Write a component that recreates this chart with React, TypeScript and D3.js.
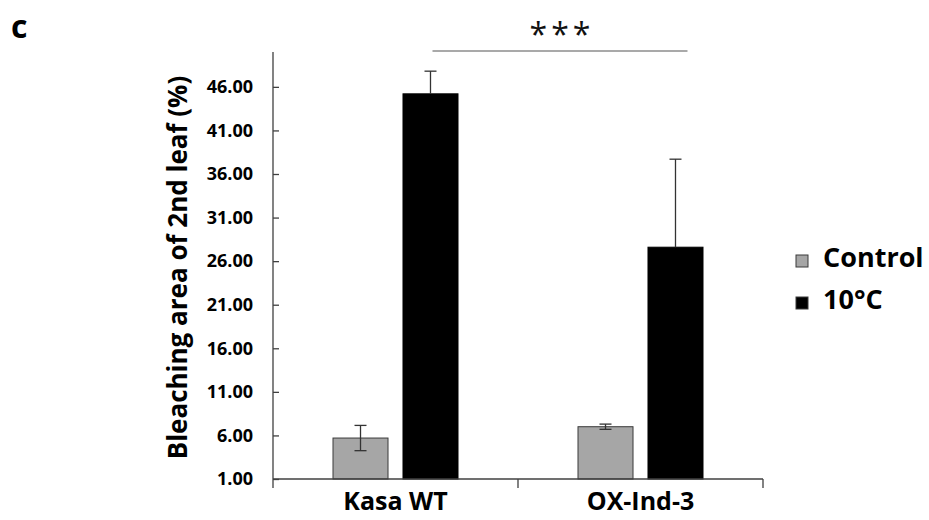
import { useEffect, useRef } from "react";
import * as d3 from "d3";

const categories = ["Kasa WT", "OX-Ind-3"];
const series = ["Control", "10°C"];
const controlValues = [5.7, 7.0];
const controlErrors = [1.45, 0.3];
const coldValues = [45.2, 27.6];
const coldErrors = [2.6, 10.1];
const yTicks = [1, 6, 11, 16, 21, 26, 31, 36, 41, 46];
const significance = "***";

const colors = { Control: "#a6a6a6", "10°C": "#000000" };
const font = "'Open Sans', sans-serif";

export default function App() {
  const ref = useRef<SVGSVGElement>(null);

  useEffect(() => {
    document.body.style.margin = "0";
    const svg = d3.select(ref.current);
    svg.selectAll("*").remove();

    const left = 273;
    const right = 763;
    const top = 52;
    const bottom = 479;

    const y = d3.scaleLinear().domain([1, 50]).range([bottom, top]);
    const x0 = d3.scaleBand().domain(categories).range([left, right]);
    const inset = (x0.bandwidth() - 125) / 2;
    const x1 = d3
      .scaleBand()
      .domain(series)
      .range([inset, inset + 125])
      .paddingInner(0.214);

    const rows = categories.map((c, i) => [
      { cat: c, key: "Control", value: controlValues[i], err: controlErrors[i] },
      { cat: c, key: "10°C", value: coldValues[i], err: coldErrors[i] },
    ]);

    // bars
    const groups = svg
      .selectAll("g.cat")
      .data(rows)
      .enter()
      .append("g")
      .attr("transform", (d) => `translate(${x0(d[0].cat)},0)`);

    groups
      .selectAll("rect")
      .data((d) => d)
      .enter()
      .append("rect")
      .attr("x", (d) => x1(d.key))
      .attr("y", (d) => y(d.value))
      .attr("width", x1.bandwidth())
      .attr("height", (d) => y(1) - y(d.value))
      .attr("fill", (d) => colors[d.key])
      .attr("stroke", (d) => (d.key === "Control" ? "#3a3a3a" : "#000"))
      .attr("stroke-width", 1);

    // error bars
    const eb = groups
      .selectAll("g.err")
      .data((d) => d)
      .enter()
      .append("g")
      .attr("stroke", "#333")
      .attr("stroke-width", 1.3);
    const cx = (d) => x1(d.key) + x1.bandwidth() / 2;
    eb.append("line")
      .attr("x1", cx)
      .attr("x2", cx)
      .attr("y1", (d) => y(d.value + d.err))
      .attr("y2", (d) => (d.key === "Control" ? y(d.value - d.err) : y(d.value)));
    eb.append("line")
      .attr("x1", (d) => cx(d) - 6)
      .attr("x2", (d) => cx(d) + 6)
      .attr("y1", (d) => y(d.value + d.err))
      .attr("y2", (d) => y(d.value + d.err));
    eb.filter((d) => d.key === "Control")
      .append("line")
      .attr("x1", (d) => cx(d) - 6)
      .attr("x2", (d) => cx(d) + 6)
      .attr("y1", (d) => y(d.value - d.err))
      .attr("y2", (d) => y(d.value - d.err));

    // y axis
    const yAxis = svg
      .append("g")
      .attr("transform", `translate(${left},0)`)
      .call(
        d3
          .axisLeft(y)
          .tickValues(yTicks)
          .tickSize(-6)
          .tickPadding(20)
          .tickFormat(d3.format(".2f"))
      );
    yAxis.select(".domain").attr("stroke", "#404040").attr("stroke-width", 1.3)
      .attr("d", `M0,${top}V${bottom}`);
    yAxis.selectAll(".tick line").attr("stroke", "#404040").attr("stroke-width", 1.3);
    yAxis
      .selectAll(".tick text")
      .style("font-family", font)
      .style("font-size", "18px")
      .style("font-weight", "bold")
      .attr("fill", "#000");

    // x axis
    const xAxis = svg
      .append("g")
      .attr("transform", `translate(0,${bottom})`);
    xAxis
      .append("line")
      .attr("x1", left)
      .attr("x2", right)
      .attr("stroke", "#404040")
      .attr("stroke-width", 1.3);
    xAxis
      .selectAll("line.sep")
      .data([left, ...categories.map((c) => x0(c) + x0.bandwidth())])
      .enter()
      .append("line")
      .attr("x1", (d) => d)
      .attr("x2", (d) => d)
      .attr("y1", 0)
      .attr("y2", 9)
      .attr("stroke", "#404040")
      .attr("stroke-width", 1.3);
    xAxis
      .selectAll("text")
      .data(categories)
      .enter()
      .append("text")
      .attr("x", (d) => x0(d) + x0.bandwidth() / 2)
      .attr("y", 31)
      .attr("text-anchor", "middle")
      .style("font-family", font)
      .style("font-size", "25px")
      .style("font-weight", "bold")
      .text((d) => d);

    // y label
    svg
      .append("text")
      .attr("transform", `translate(187,${(top + bottom) / 2 + 2}) rotate(-90)`)
      .attr("text-anchor", "middle")
      .style("font-family", font)
      .style("font-size", "26px")
      .style("font-weight", "bold")
      .text("Bleaching area of 2nd leaf (%)");

    // significance
    const sx1 = x0(categories[0]) + x1("10°C") + x1.bandwidth() / 2;
    const sx2 = x0(categories[1]) + x1("10°C") + x1.bandwidth() / 2;
    svg
      .append("line")
      .attr("x1", sx1 + 2)
      .attr("x2", sx2 + 12)
      .attr("y1", 51)
      .attr("y2", 51)
      .attr("stroke", "#555")
      .attr("stroke-width", 1.2);
    svg
      .append("text")
      .attr("x", (sx1 + sx2) / 2 + 9)
      .attr("y", 46)
      .attr("text-anchor", "middle")
      .style("font-family", font)
      .style("font-size", "32px")
      .style("letter-spacing", "4px")
      .attr("fill", "#111")
      .text(significance);

    // legend
    const legend = svg
      .selectAll("g.legend")
      .data(series)
      .enter()
      .append("g")
      .attr("transform", (d, i) => `translate(796,${255 + i * 42})`);
    legend
      .append("rect")
      .attr("width", 12)
      .attr("height", 12)
      .attr("fill", (d) => colors[d])
      .attr("stroke", "#3a3a3a");
    legend
      .append("text")
      .attr("x", 27)
      .attr("y", 12)
      .style("font-family", font)
      .style("font-size", "27px")
      .style("font-weight", "bold")
      .text((d) => d);

    // panel label
    svg
      .append("text")
      .attr("x", 11)
      .attr("y", 38)
      .style("font-family", font)
      .style("font-size", "32px")
      .style("font-weight", "bold")
      .text("c");
  }, []);

  return <svg ref={ref} width={929} height={520} style={{ display: "block", background: "#fff" }} />;
}
